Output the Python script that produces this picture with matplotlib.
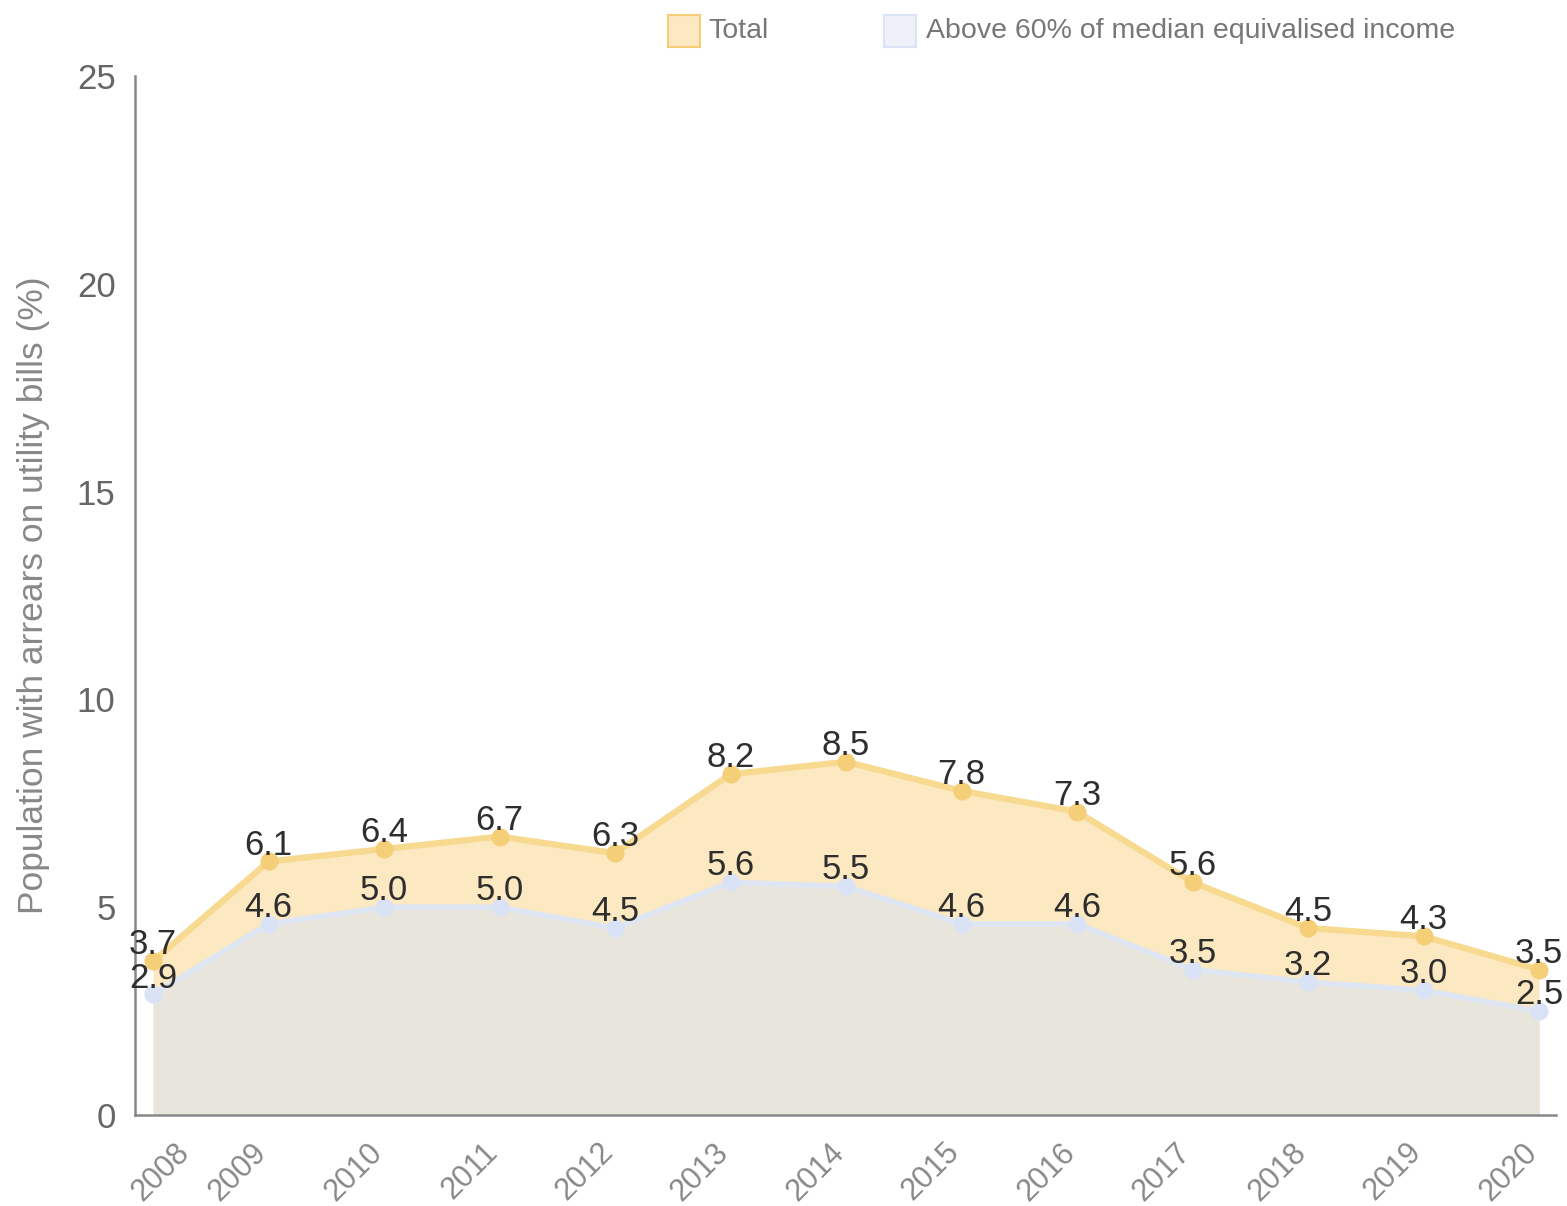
import matplotlib
matplotlib.use("Agg")
import matplotlib.pyplot as plt
from matplotlib.lines import Line2D
from matplotlib.transforms import ScaledTranslation

plt.rcParams['font.family'] = ['Liberation Sans', 'DejaVu Sans']

years = ["2008", "2009", "2010", "2011", "2012", "2013", "2014", "2015", "2016", "2017", "2018", "2019", "2020"]
total = [3.7, 6.1, 6.4, 6.7, 6.3, 8.2, 8.5, 7.8, 7.3, 5.6, 4.5, 4.3, 3.5]
above = [2.9, 4.6, 5.0, 5.0, 4.5, 5.6, 5.5, 4.6, 4.6, 3.5, 3.2, 3.0, 2.5]
yticks = [0, 5, 10, 15, 20, 25]
legend_labels = ["Total", "Above 60% of median equivalised income"]

c_total_fill = "#fce8c1"
c_total_line = "#f7d98f"
c_total_mark = "#f5cf78"
c_above_fill = "#e8e5dd"
c_above_line = "#dfe6f3"
c_above_mark = "#dae3f5"

W, H = 1567, 1206
fig = plt.figure(figsize=(W / 100, H / 100), dpi=100)
ax = fig.add_axes([135 / W, 1 - 1115 / H, 1421 / W, (1115 - 76) / H])

x = list(range(len(years)))
ax.fill_between(x, 0, total, color=c_total_fill, zorder=1, linewidth=0)
ax.fill_between(x, 0, above, color=c_above_fill, zorder=2, linewidth=0)
ax.plot(x, total, color=c_total_line, lw=4.5, zorder=3, marker='o', ms=12,
        mfc=c_total_mark, mec=c_total_mark)
ax.plot(x, above, color=c_above_line, lw=4, zorder=4, marker='o', ms=12,
        mfc=c_above_mark, mec=c_above_mark)

for series in (total, above):
    for xi, v in zip(x, series):
        ax.annotate(f"{v:.1f}", (xi, v), xytext=(0, 5), textcoords='offset points',
                    ha='center', va='baseline', fontsize=25, color='#2e2e2e',
                    zorder=6, annotation_clip=False)

ax.set_xlim(-0.156, 12.147)
ax.set_ylim(0, 25)
ax.set_yticks(yticks)
ax.set_yticklabels([str(t) for t in yticks], fontsize=25, color='#666666')
ax.set_xticks(x)
ax.set_xticklabels(years, rotation=45, ha='right', va='top', rotation_mode='anchor',
                   fontsize=22, color='#888888')
ax.tick_params(axis='y', length=0, pad=14)
ax.tick_params(axis='x', length=0, pad=16)
# shift labels so their upper end sits at the tick; first one kept inside the chart
for i, lab in enumerate(ax.get_xticklabels()):
    dx = 0.21 if i == 0 else -0.17
    lab.set_transform(lab.get_transform() + ScaledTranslation(dx, 0, fig.dpi_scale_trans))

for s in ['top', 'right']:
    ax.spines[s].set_visible(False)
for s in ['left', 'bottom']:
    ax.spines[s].set_color('#888888')
    ax.spines[s].set_linewidth(1.8)
ax.set_ylabel("Population with arrears on utility bills (%)", fontsize=25.5,
              color='#888888')
ax.yaxis.set_label_coords((50 - 135) / 1421, 0.5)

# legend drawn in figure coordinates
leg_items = [(684, 708, c_total_fill, c_total_mark),
             (900, 926, "#eef1f8", c_above_mark)]
for (mx, tx, fc, ec), lab in zip(leg_items, legend_labels):
    fig.add_artist(Line2D([mx / W], [1 - 31 / H], marker='s', ls='', ms=23,
                          mfc=fc, mec=ec, mew=1.5, transform=fig.transFigure))
    fig.text(tx / W, 1 - 31 / H, lab, fontsize=20.5, color='#777777',
             ha='left', va='center')

fig.savefig("out.png", dpi=100)
